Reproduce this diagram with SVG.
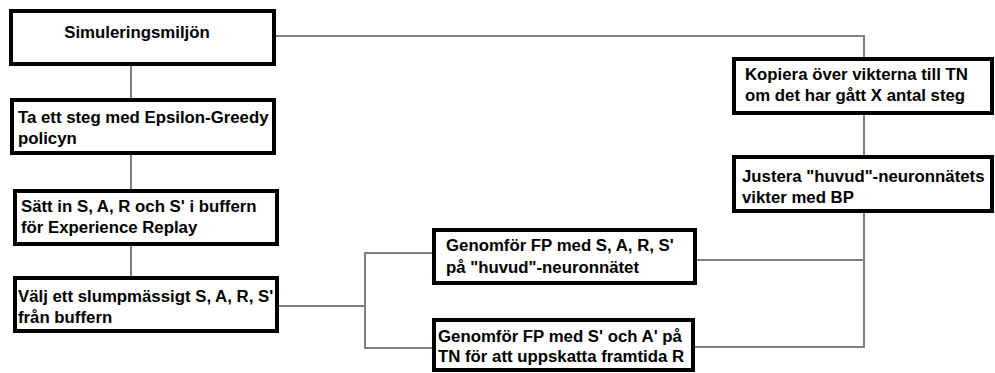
<svg xmlns="http://www.w3.org/2000/svg" width="995" height="373" viewBox="0 0 995 373">
<style>
.box{fill:#fff;stroke:#000;stroke-width:4}
.t{font-family:"Liberation Sans",Arial,sans-serif;font-weight:bold;font-size:16.8px;fill:#000}
.c{fill:none;stroke:#808080;stroke-width:2}
</style>
<rect width="995" height="373" fill="#fff"/>
<g id="connectors">
<path class="c" d="M131 66V98M131 155V189M131 246V276"/>
<path class="c" d="M276 36H864V57M864 115V155M864 213V347H695M697 260H864"/>
<path class="c" d="M279 306H365M432 253H365V348H432"/>
</g>
<g id="n1"><rect class="box" x="11" y="11" width="263" height="53"/><text class="t" x="137" y="38" text-anchor="middle">Simuleringsmiljön</text></g>
<g id="n2"><rect class="box" x="12" y="100" width="262" height="53"/><text class="t" x="18" y="123">Ta ett steg med Epsilon-Greedy</text><text class="t" x="18" y="144">policyn</text></g>
<g id="n3"><rect class="box" x="15" y="191" width="262" height="53"/><text class="t" x="21" y="212">Sätt in S, A, R och S' i buffern</text><text class="t" x="21" y="233">för Experience Replay</text></g>
<g id="n4"><rect class="box" x="15" y="278" width="262" height="53"/><text class="t" x="18" y="302">Välj ett slumpmässigt S, A, R, S'</text><text class="t" x="18" y="323">från buffern</text></g>
<g id="n5"><rect class="box" x="434" y="230" width="261" height="53"/><text class="t" x="446" y="251">Genomför FP med S, A, R, S'</text><text class="t" x="446" y="273">på "huvud"-neuronnätet</text></g>
<g id="n6"><rect class="box" x="434" y="320" width="259" height="50"/><text class="t" x="438" y="342">Genomför FP med S' och A' på</text><text class="t" x="438" y="362">TN för att uppskatta framtida R</text></g>
<g id="n7"><rect class="box" x="734" y="59" width="258" height="54"/><text class="t" x="745" y="80">Kopiera över vikterna till TN</text><text class="t" x="745" y="101">om det har gått X antal steg</text></g>
<g id="n8"><rect class="box" x="734" y="157" width="258" height="54"/><text class="t" x="742" y="182">Justera "huvud"-neuronnätets</text><text class="t" x="742" y="203">vikter med BP</text></g>
</svg>
